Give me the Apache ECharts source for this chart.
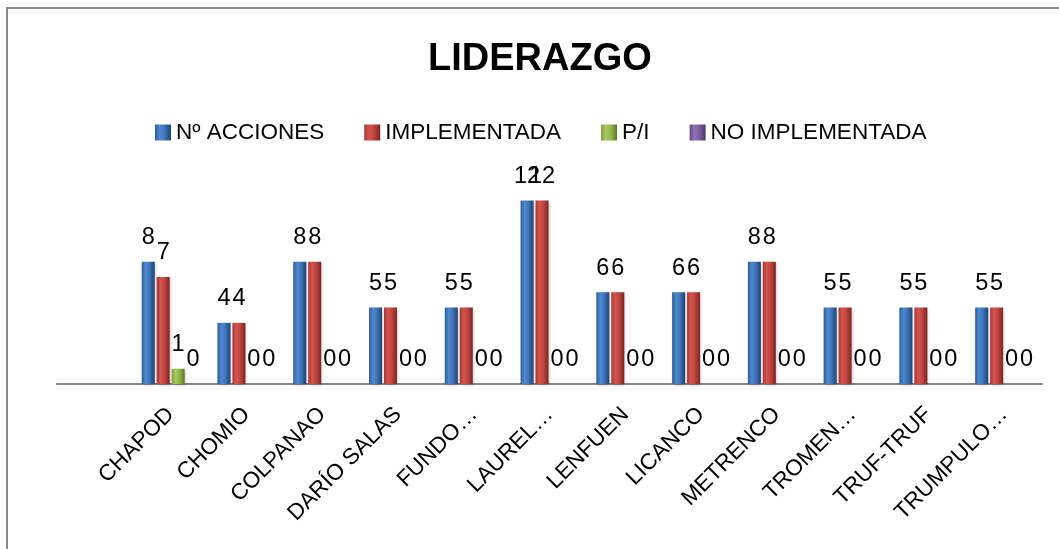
<!DOCTYPE html>
<html>
<head>
<meta charset="utf-8">
<title>LIDERAZGO</title>
<script src="https://cdn.jsdelivr.net/npm/echarts@6/dist/echarts.min.js"></script>
<style>
  html, body { margin: 0; padding: 0; background: #ffffff; }
  #chart { width: 1059px; height: 549px; }
</style>
</head>
<body>
<div id="chart"></div>
<script>
// Sites (the leading blank slot is an empty row in the source sheet)
const categories = ['', 'CHAPOD', 'CHOMIO', 'COLPANAO', 'DARÍO SALAS', 'FUNDO…', 'LAUREL…',
  'LENFUEN', 'LICANCO', 'METRENCO', 'TROMEN…', 'TRUF-TRUF', 'TRUMPULO…'];

const seriesNames = ['Nº ACCIONES', 'IMPLEMENTADA', 'P/I', 'NO IMPLEMENTADA'];

const accionesValues       = [null, 8, 4, 8, 5, 5, 12, 6, 6, 8, 5, 5, 5];
const implementadaValues   = [null, 7, 4, 8, 5, 5, 12, 6, 6, 8, 5, 5, 5];
const piValues             = [null, 1, 0, 0, 0, 0, 0, 0, 0, 0, 0, 0, 0];
const noImplementadaValues = [null, 0, 0, 0, 0, 0, 0, 0, 0, 0, 0, 0, 0];

const FONT = '"Liberation Sans", Arial, sans-serif';

// Horizontal shading that gives each bar a rounded, bevelled look
function shade(dark, mid, light, edge) {
  return new echarts.graphic.LinearGradient(0, 0, 1, 0, [
    { offset: 0, color: dark },
    { offset: 0.3, color: light },
    { offset: 0.6, color: mid },
    { offset: 1, color: edge }
  ]);
}

const palette = [
  shade('#2d5c98', '#3f74b8', '#4f88d0', '#1f4272'),
  shade('#a53734', '#c0443f', '#d45550', '#7d2422'),
  shade('#7d9b3b', '#93b54c', '#a8ca5e', '#5e7a26'),
  shade('#634a87', '#7a5ea0', '#8f72b6', '#4a3568')
];

const dataSets = [accionesValues, implementadaValues, piValues, noImplementadaValues];

const series = dataSets.map((values, i) => ({
  name: seriesNames[i],
  type: 'bar',
  data: values,
  barWidth: 13,
  barGap: '15%',
  itemStyle: {
    color: palette[i],
    shadowColor: 'rgba(0,0,0,0.25)',
    shadowBlur: 3,
    shadowOffsetX: 1,
    shadowOffsetY: 1
  },
  label: {
    show: true,
    position: 'top',
    distance: 12,
    color: '#000000',
    fontFamily: FONT,
    fontSize: 23.5
  }
}));

const chart = echarts.init(document.getElementById('chart'), null, { renderer: 'canvas' });

chart.setOption({
  animation: false,
  backgroundColor: '#ffffff',
  title: {
    text: 'LIDERAZGO',
    left: 428,
    top: 41,
    padding: 0,
    textStyle: {
      fontFamily: FONT,
      fontWeight: 'bold',
      fontSize: 38,
      color: '#000000'
    }
  },
  legend: {
    data: seriesNames,
    left: 155,
    top: 121,
    padding: 0,
    itemGap: 40,
    itemWidth: 16,
    itemHeight: 16,
    icon: 'rect',
    textStyle: {
      fontFamily: FONT,
      fontSize: 22.5,
      color: '#000000'
    }
  },
  grid: {
    left: 57,
    right: 17,
    top: 170,
    bottom: 165,
    containLabel: false
  },
  xAxis: {
    type: 'category',
    data: categories,
    axisLine: { show: true, lineStyle: { color: '#868686', width: 2 } },
    axisTick: { show: false },
    axisLabel: {
      rotate: 45,
      margin: 27,
      interval: 0,
      color: '#000000',
      fontFamily: FONT,
      fontSize: 22.5
    }
  },
  yAxis: {
    type: 'value',
    min: 0,
    max: 14,
    interval: 2,
    show: false,
    splitLine: { show: false }
  },
  graphic: [{
    type: 'rect',
    shape: { x: 7, y: 8, width: 1200, height: 700 },
    style: { fill: 'none', stroke: '#898989', lineWidth: 2 },
    silent: true,
    z: -1
  }],
  series: series
});
</script>
</body>
</html>
